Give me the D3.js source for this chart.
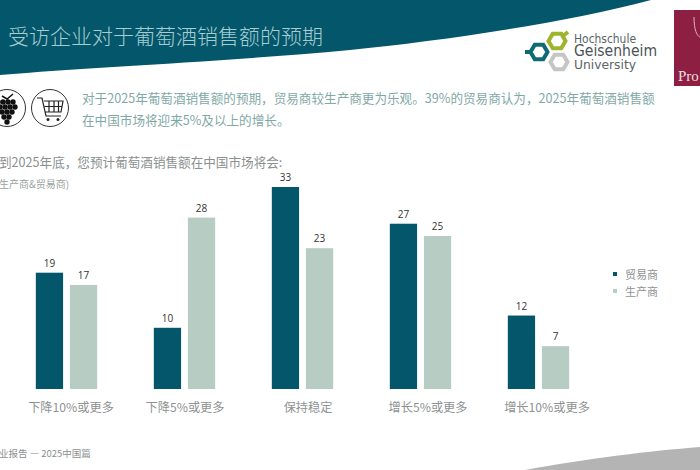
<!DOCTYPE html>
<html lang="zh">
<head>
<meta charset="utf-8">
<script src="https://cdn.jsdelivr.net/npm/d3@7"></script>
<style>
html,body{margin:0;padding:0;background:#fff;overflow:hidden}
svg{display:block}
text{font-family:"Noto Sans CJK SC","Noto Sans",sans-serif}
</style>
</head>
<body>
<div id="chart"></div>
<script>
const categories = ["下降10%或更多","下降5%或更多","保持稳定","增长5%或更多","增长10%或更多"];
const seriesNames = ["贸易商","生产商"];
const traders = [19,10,33,27,12];
const producers = [17,28,23,25,7];
const seriesColors = ["#04566b","#b7ccc3"];
const labelShift = [4.5,0.5,5.5,7.5,8.5];

const svg = d3.select("#chart").append("svg").attr("width",700).attr("height",470);

// Page furniture: header swoosh and footer wedge
svg.append("path").attr("fill","#04566b")
  .attr("d","M0,0H651C560,24 440,41 350,50C220,62 90,67 0,75Z");
svg.append("path").attr("fill","#b4b4b4")
  .attr("d","M525,470C590,458 650,451 700,447V470Z");

svg.append("text").attr("x",8).attr("y",44).attr("font-size",21).attr("fill","#a5cdd2")
  .attr("font-weight",300).text("受访企业对于葡萄酒销售额的预期");

// Logo
const logo = svg.append("g").attr("fill","none");
const hex = (cx,cy,r)=>d3.range(6).map(i=>{const a=Math.PI/3*i;return [cx+r*Math.cos(a),cy+r*Math.sin(a)];});
const hexLine = d3.line().curve(d3.curveLinearClosed);
logo.append("path").attr("d",hexLine(hex(559,62,8.5))).attr("stroke","#c4c6c6").attr("stroke-width",4);
logo.append("path").attr("d",hexLine(hex(539,52,8.5))).attr("stroke","#0f6a78").attr("stroke-width",4);
logo.append("path").attr("d","M525,52H530").attr("stroke","#0f6a78").attr("stroke-width",4);
logo.append("path").attr("d",hexLine(hex(557,41,8.5))).attr("stroke","#9db52c").attr("stroke-width",4);
logo.append("path").attr("d","M563,36L568,32").attr("stroke","#9db52c").attr("stroke-width",4);
const logoText = [["Hochschule",43,12,"#5a6468",400],["Geisenheim",56,15,"#4a5358",500],["University",69,12,"#5a6468",400]];
svg.selectAll(".logoText").data(logoText).join("text").attr("class","logoText")
  .attr("x",574).attr("y",d=>d[1]).attr("font-size",d=>d[2]).attr("fill",d=>d[3]).attr("font-weight",d=>d[4])
  .style("font-family","'DejaVu Sans'").attr("textLength",d=>d[2]===15?83:62).attr("lengthAdjust","spacingAndGlyphs").text(d=>d[0]);

// Partner badge at the right edge
svg.append("rect").attr("x",674).attr("y",10).attr("width",26).height;
svg.append("rect").attr("x",674).attr("y",10).attr("width",26).attr("height",76).attr("fill","#8c1f42");
svg.append("path").attr("d","M694,17C694,30 697,36 700,37").attr("fill","none").attr("stroke","#d9b4bf").attr("stroke-width",1);
svg.append("text").attr("x",678).attr("y",81).attr("font-size",15).attr("fill","#f0dde3")
  .style("font-family","'Liberation Serif'").text("Pro");

// Round icons: grapes and shopping cart
svg.append("circle").attr("cx",7).attr("cy",108).attr("r",18.5).attr("fill","#fff").attr("stroke","#333").attr("stroke-width",1);
svg.append("circle").attr("cx",50).attr("cy",108).attr("r",18.5).attr("fill","#fff").attr("stroke","#333").attr("stroke-width",1);
const grapes=[[-1,101],[4,101],[9,101],[14,101],[1,106],[6,106],[11,106],[2,111],[8,111],[5,116],[8,122]];
svg.append("g").selectAll("circle").data([[-2,102],[3,102],[8,102],[13,102],[0,107],[5,107],[10,107],[15,107],[2,112],[7,112],[12,112],[4,117],[9,117],[7,122]])
  .join("circle").attr("cx",d=>d[0]).attr("cy",d=>d[1]).attr("r",2.7).attr("fill","#111");
svg.append("path").attr("d","M2,96L7,99L13,94").attr("fill","none").attr("stroke","#111").attr("stroke-width",1.5);
svg.append("path").attr("fill","none").attr("stroke","#222").attr("stroke-width",1.2)
  .attr("d","M37,98H42L46,116H61M44,101H63L61,112H45.5M49,101V112M54,101V112M58.5,101V112M44.7,106.5H62");
svg.append("g").selectAll("circle").data([48,58]).join("circle")
  .attr("cx",d=>d).attr("cy",119.5).attr("r",1.5).attr("fill","#222");

// Commentary and question text
svg.append("text").attr("x",82).attr("y",103).attr("font-size",12.6).attr("fill","#7fa9a6").text("对于2025年葡萄酒销售额的预期，贸易商较生产商更为乐观。39%的贸易商认为，2025年葡萄酒销售额");
svg.append("text").attr("x",82).attr("y",125).attr("font-size",12.6).attr("fill","#7fa9a6").text("在中国市场将迎来5%及以上的增长。");
svg.append("text").attr("x",-1).attr("y",167).attr("font-size",12.6).attr("fill","#8a8f8f").text("到2025年底，您预计葡萄酒销售额在中国市场将会:");
svg.append("text").attr("x",-1).attr("y",188).attr("font-size",10).attr("fill","#9a9f9f").text("生产商&贸易商)");
svg.append("text").attr("x",-1).attr("y",457).attr("font-size",9.5).attr("fill","#8a8f8f").text("业报告 — 2025中国篇");

// Grouped bars
const baseY = 389;
const y = d3.scaleLinear().domain([0,33]).range([baseY,187]);
const x0 = d3.scaleBand().domain(categories).range([7.5,597.5]).paddingInner(0.48).paddingOuter(0.24);
const x1 = d3.scaleBand().domain(seriesNames).range([0,x0.bandwidth()]).paddingInner(0.2);
const rows = categories.map((c,i)=>({c,i,vals:[traders[i],producers[i]]}));

const groups = svg.append("g").selectAll("g").data(rows).join("g")
  .attr("transform",d=>`translate(${x0(d.c)},0)`);
const cells = groups.selectAll("g").data(d=>d.vals.map((v,k)=>({v,k}))).join("g");
cells.append("rect").attr("x",d=>x1(seriesNames[d.k])).attr("y",d=>y(d.v))
  .attr("width",x1.bandwidth()).attr("height",d=>baseY-y(d.v)).attr("fill",d=>seriesColors[d.k]);
cells.append("text").attr("x",d=>x1(seriesNames[d.k])+x1.bandwidth()/2).attr("y",d=>y(d.v)-6)
  .attr("text-anchor","middle").attr("font-size",10).attr("fill","#333")
  .style("font-family","'Open Sans'").text(d=>d.v);

// Category axis; labels sit slightly off their bar groups
const axis = svg.append("g").attr("transform",`translate(0,${baseY})`)
  .call(d3.axisBottom(x0).tickSize(0).tickPadding(14));
axis.select(".domain").remove();
axis.selectAll("text").attr("font-size",12.2).attr("fill","#8e9292")
  .style("font-family",'"Noto Sans CJK SC"')
  .attr("dx",(d,i)=>labelShift[i]);

// Legend
const legend = svg.append("g").selectAll("g").data(seriesNames).join("g")
  .attr("transform",(d,i)=>`translate(613,${274+i*17})`);
legend.append("rect").attr("x",0).attr("y",-2).attr("width",4).attr("height",4).attr("fill",(d,i)=>seriesColors[i]);
legend.append("text").attr("x",12).attr("y",4.5).attr("font-size",11).attr("fill","#8e9292").text(d=>d);
</script>
</body>
</html>
